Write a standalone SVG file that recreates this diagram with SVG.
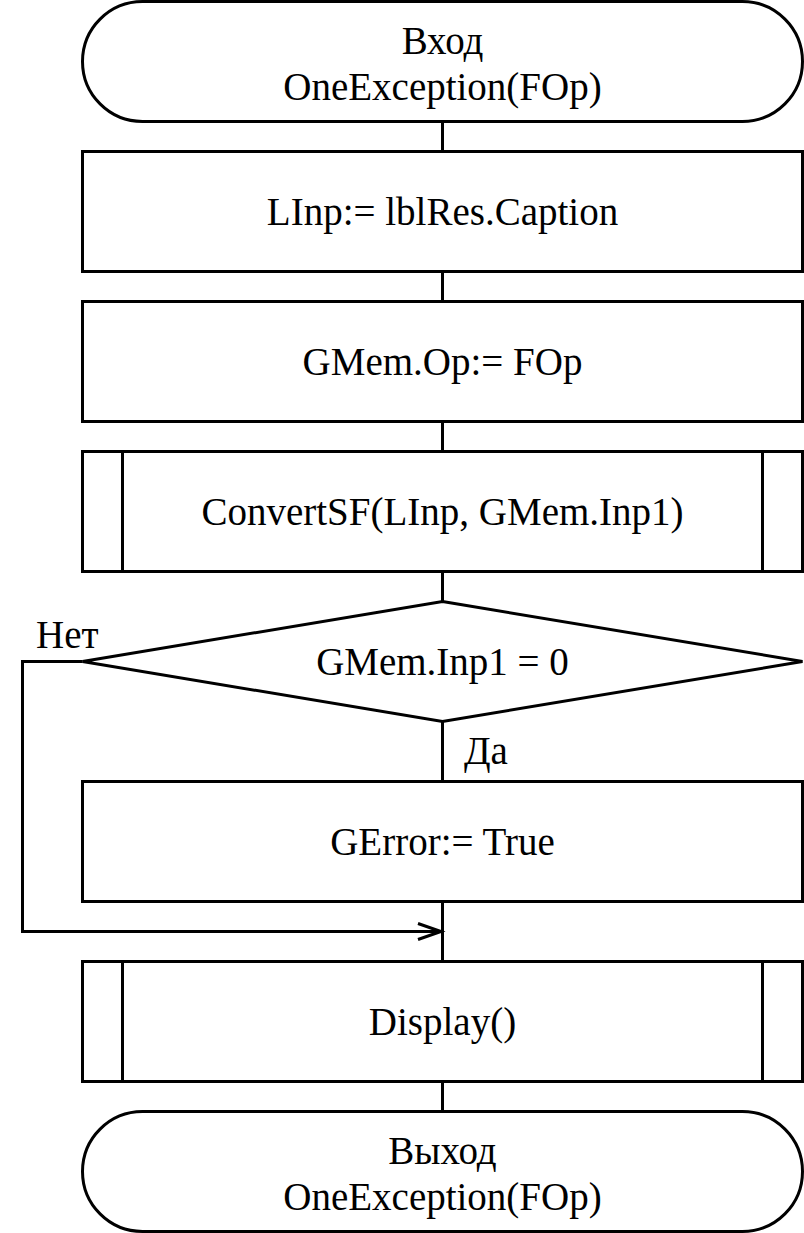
<svg xmlns="http://www.w3.org/2000/svg" width="804" height="1233" viewBox="0 0 804 1233">
<style>
.s{fill:#fff;stroke:#000;stroke-width:3}
.l{fill:none;stroke:#000;stroke-width:3}
text{font-family:"Liberation Serif","Times New Roman",serif;font-size:39px;fill:#000}
.c{text-anchor:middle}
</style>
<rect width="804" height="1233" fill="#fff"/>
<g id="connectors">
<line class="l" x1="442.5" y1="121.5" x2="442.5" y2="151.5"/>
<line class="l" x1="442.5" y1="271.5" x2="442.5" y2="301.5"/>
<line class="l" x1="442.5" y1="421.5" x2="442.5" y2="451.5"/>
<line class="l" x1="442.5" y1="571.5" x2="442.5" y2="601.5"/>
<line class="l" x1="442.5" y1="721.5" x2="442.5" y2="781.5"/>
<line class="l" x1="442.5" y1="901.5" x2="442.5" y2="961.5"/>
<line class="l" x1="442.5" y1="1081.5" x2="442.5" y2="1111.5"/>
<polyline class="l" points="82.5,661.5 22.5,661.5 22.5,931.5 441,931.5"/>
<polyline class="l" points="418,923.5 441,931.5 418,939.5"/>
<text x="36" y="648">Нет</text>
<text x="464" y="764">Да</text>
</g>
<g id="start">
<rect class="s" x="82.5" y="1.5" width="720" height="120" rx="60" ry="60"/>
<text class="c" x="442.5" y="54">Вход</text>
<text class="c" x="442.5" y="100">OneException(FOp)</text>
</g>
<g id="linp">
<rect class="s" x="82.5" y="151.5" width="720" height="120"/>
<text class="c" x="442.5" y="225">LInp:= lblRes.Caption</text>
</g>
<g id="gmemop">
<rect class="s" x="82.5" y="301.5" width="720" height="120"/>
<text class="c" x="442.5" y="375">GMem.Op:= FOp</text>
</g>
<g id="convert">
<rect class="s" x="82.5" y="451.5" width="720" height="120"/>
<line class="l" x1="122.5" y1="451.5" x2="122.5" y2="571.5"/>
<line class="l" x1="762.5" y1="451.5" x2="762.5" y2="571.5"/>
<text class="c" x="442.5" y="525">ConvertSF(LInp, GMem.Inp1)</text>
</g>
<g id="decision">
<polygon class="s" points="442.5,601.5 802.5,661.5 442.5,721.5 82.5,661.5"/>
<text class="c" x="442.5" y="675">GMem.Inp1 = 0</text>
</g>
<g id="gerror">
<rect class="s" x="82.5" y="781.5" width="720" height="120"/>
<text class="c" x="442.5" y="855">GError:= True</text>
</g>
<g id="display">
<rect class="s" x="82.5" y="961.5" width="720" height="120"/>
<line class="l" x1="122.5" y1="961.5" x2="122.5" y2="1081.5"/>
<line class="l" x1="762.5" y1="961.5" x2="762.5" y2="1081.5"/>
<text class="c" x="442.5" y="1035">Display()</text>
</g>
<g id="end">
<rect class="s" x="82.5" y="1111.5" width="720" height="120" rx="60" ry="60"/>
<text class="c" x="442.5" y="1164">Выход</text>
<text class="c" x="442.5" y="1210">OneException(FOp)</text>
</g>
</svg>
